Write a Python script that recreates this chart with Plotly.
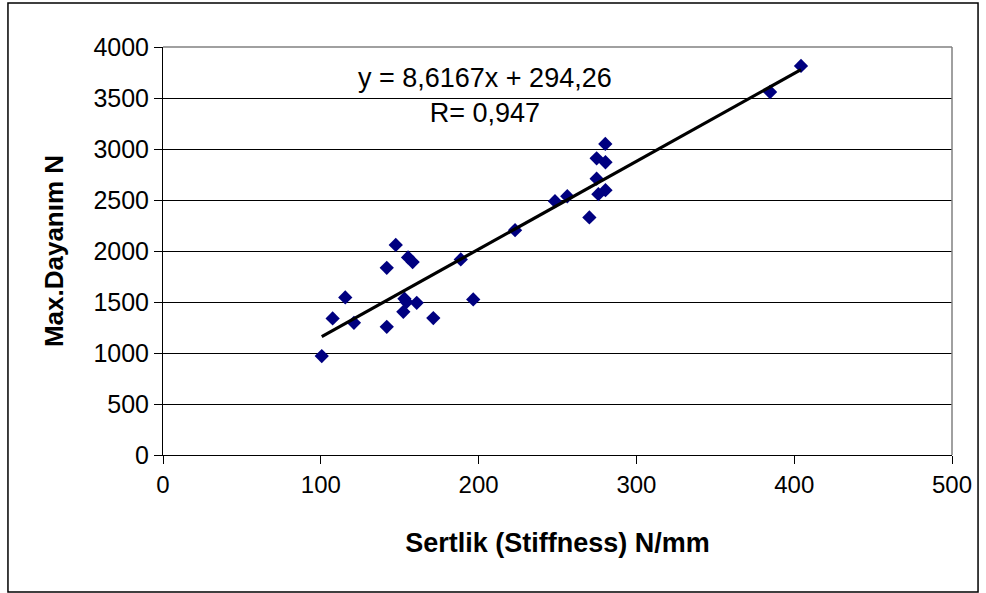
import plotly.graph_objects as go
import numpy as np

# Data
stiffness = [100.6, 107.5, 115.5, 121.0, 141.8, 141.8, 147.5, 152.3, 153.0, 154.3,
             155.3, 158.2, 160.8, 171.3, 188.7, 196.6, 223.1, 248.4, 256.2, 270.2,
             274.8, 280.3, 280.4, 274.8, 275.9, 280.4, 384.7, 404.3]
max_strength = [970, 1339, 1545, 1296, 1835, 1257, 2060, 1404, 1533, 1499,
                1937, 1891, 1492, 1342, 1917, 1525, 2204, 2488, 2537, 2329,
                2909, 3050, 2870, 2709, 2557, 2596, 3559, 3814]

slope = 8.6167
intercept = 294.26
r_value = "0,947"

x_ticks = [0, 100, 200, 300, 400, 500]
y_ticks = [0, 500, 1000, 1500, 2000, 2500, 3000, 3500, 4000]

FONT = "Liberation Sans, Arial, sans-serif"

fig = go.Figure()

fig.add_trace(go.Scatter(
    x=stiffness, y=max_strength, mode="markers",
    marker=dict(symbol="diamond", size=11, color="#000080",
                line=dict(width=0)),
    showlegend=False, hoverinfo="x+y"))

xs = np.array([min(stiffness), max(stiffness)])
fig.add_trace(go.Scatter(
    x=xs, y=slope * xs + intercept, mode="lines",
    line=dict(color="black", width=3.2),
    showlegend=False, hoverinfo="skip"))

fig.add_annotation(
    xref="paper", yref="paper", x=0.408, y=0.882,
    text="y = 8,6167x + 294,26<br>R= " + r_value,
    showarrow=False, align="center", xanchor="center", yanchor="middle",
    font=dict(family=FONT, size=27, color="black"))

# Outer chart frame
fig.add_shape(type="rect", xref="paper", yref="paper",
              x0=-0.1965, x1=1.0330, y0=-0.3355, y1=1.1078,
              line=dict(color="black", width=1.5), fillcolor="rgba(0,0,0,0)")

fig.update_layout(
    width=986, height=593,
    margin=dict(l=163, r=34, t=47, b=138),
    paper_bgcolor="white", plot_bgcolor="white",
    font=dict(family=FONT, color="black"),
    xaxis=dict(
        range=[0, 500], tickvals=x_ticks, ticktext=[str(v) for v in x_ticks],
        showgrid=False, zeroline=False,
        showline=True, linecolor="black", linewidth=1, mirror=False,
        ticks="outside", ticklen=8, tickcolor="black",
        tickfont=dict(size=24, family=FONT),
        title=dict(text="<b>Sertlik (Stiffness) N/mm</b>",
                   font=dict(size=27, family=FONT), standoff=36)),
    yaxis=dict(
        range=[0, 4000], tickvals=y_ticks, ticktext=[str(v) for v in y_ticks],
        showgrid=True, gridcolor="black", gridwidth=1, zeroline=False,
        showline=True, linecolor="black", linewidth=1,
        ticks="outside", ticklen=8, tickcolor="black",
        tickfont=dict(size=25, family=FONT),
        title=dict(text="<b>Max.Dayanım N</b>",
                   font=dict(size=26, family=FONT), standoff=22)),
)

# Gray border on top and right of plot area
fig.add_shape(type="line", xref="paper", yref="paper", x0=0, x1=1, y0=1, y1=1,
              line=dict(color="#808080", width=1.5))
fig.add_shape(type="line", xref="paper", yref="paper", x0=1, x1=1, y0=0, y1=1,
              line=dict(color="#808080", width=1.5))

fig.write_html("out.html")
